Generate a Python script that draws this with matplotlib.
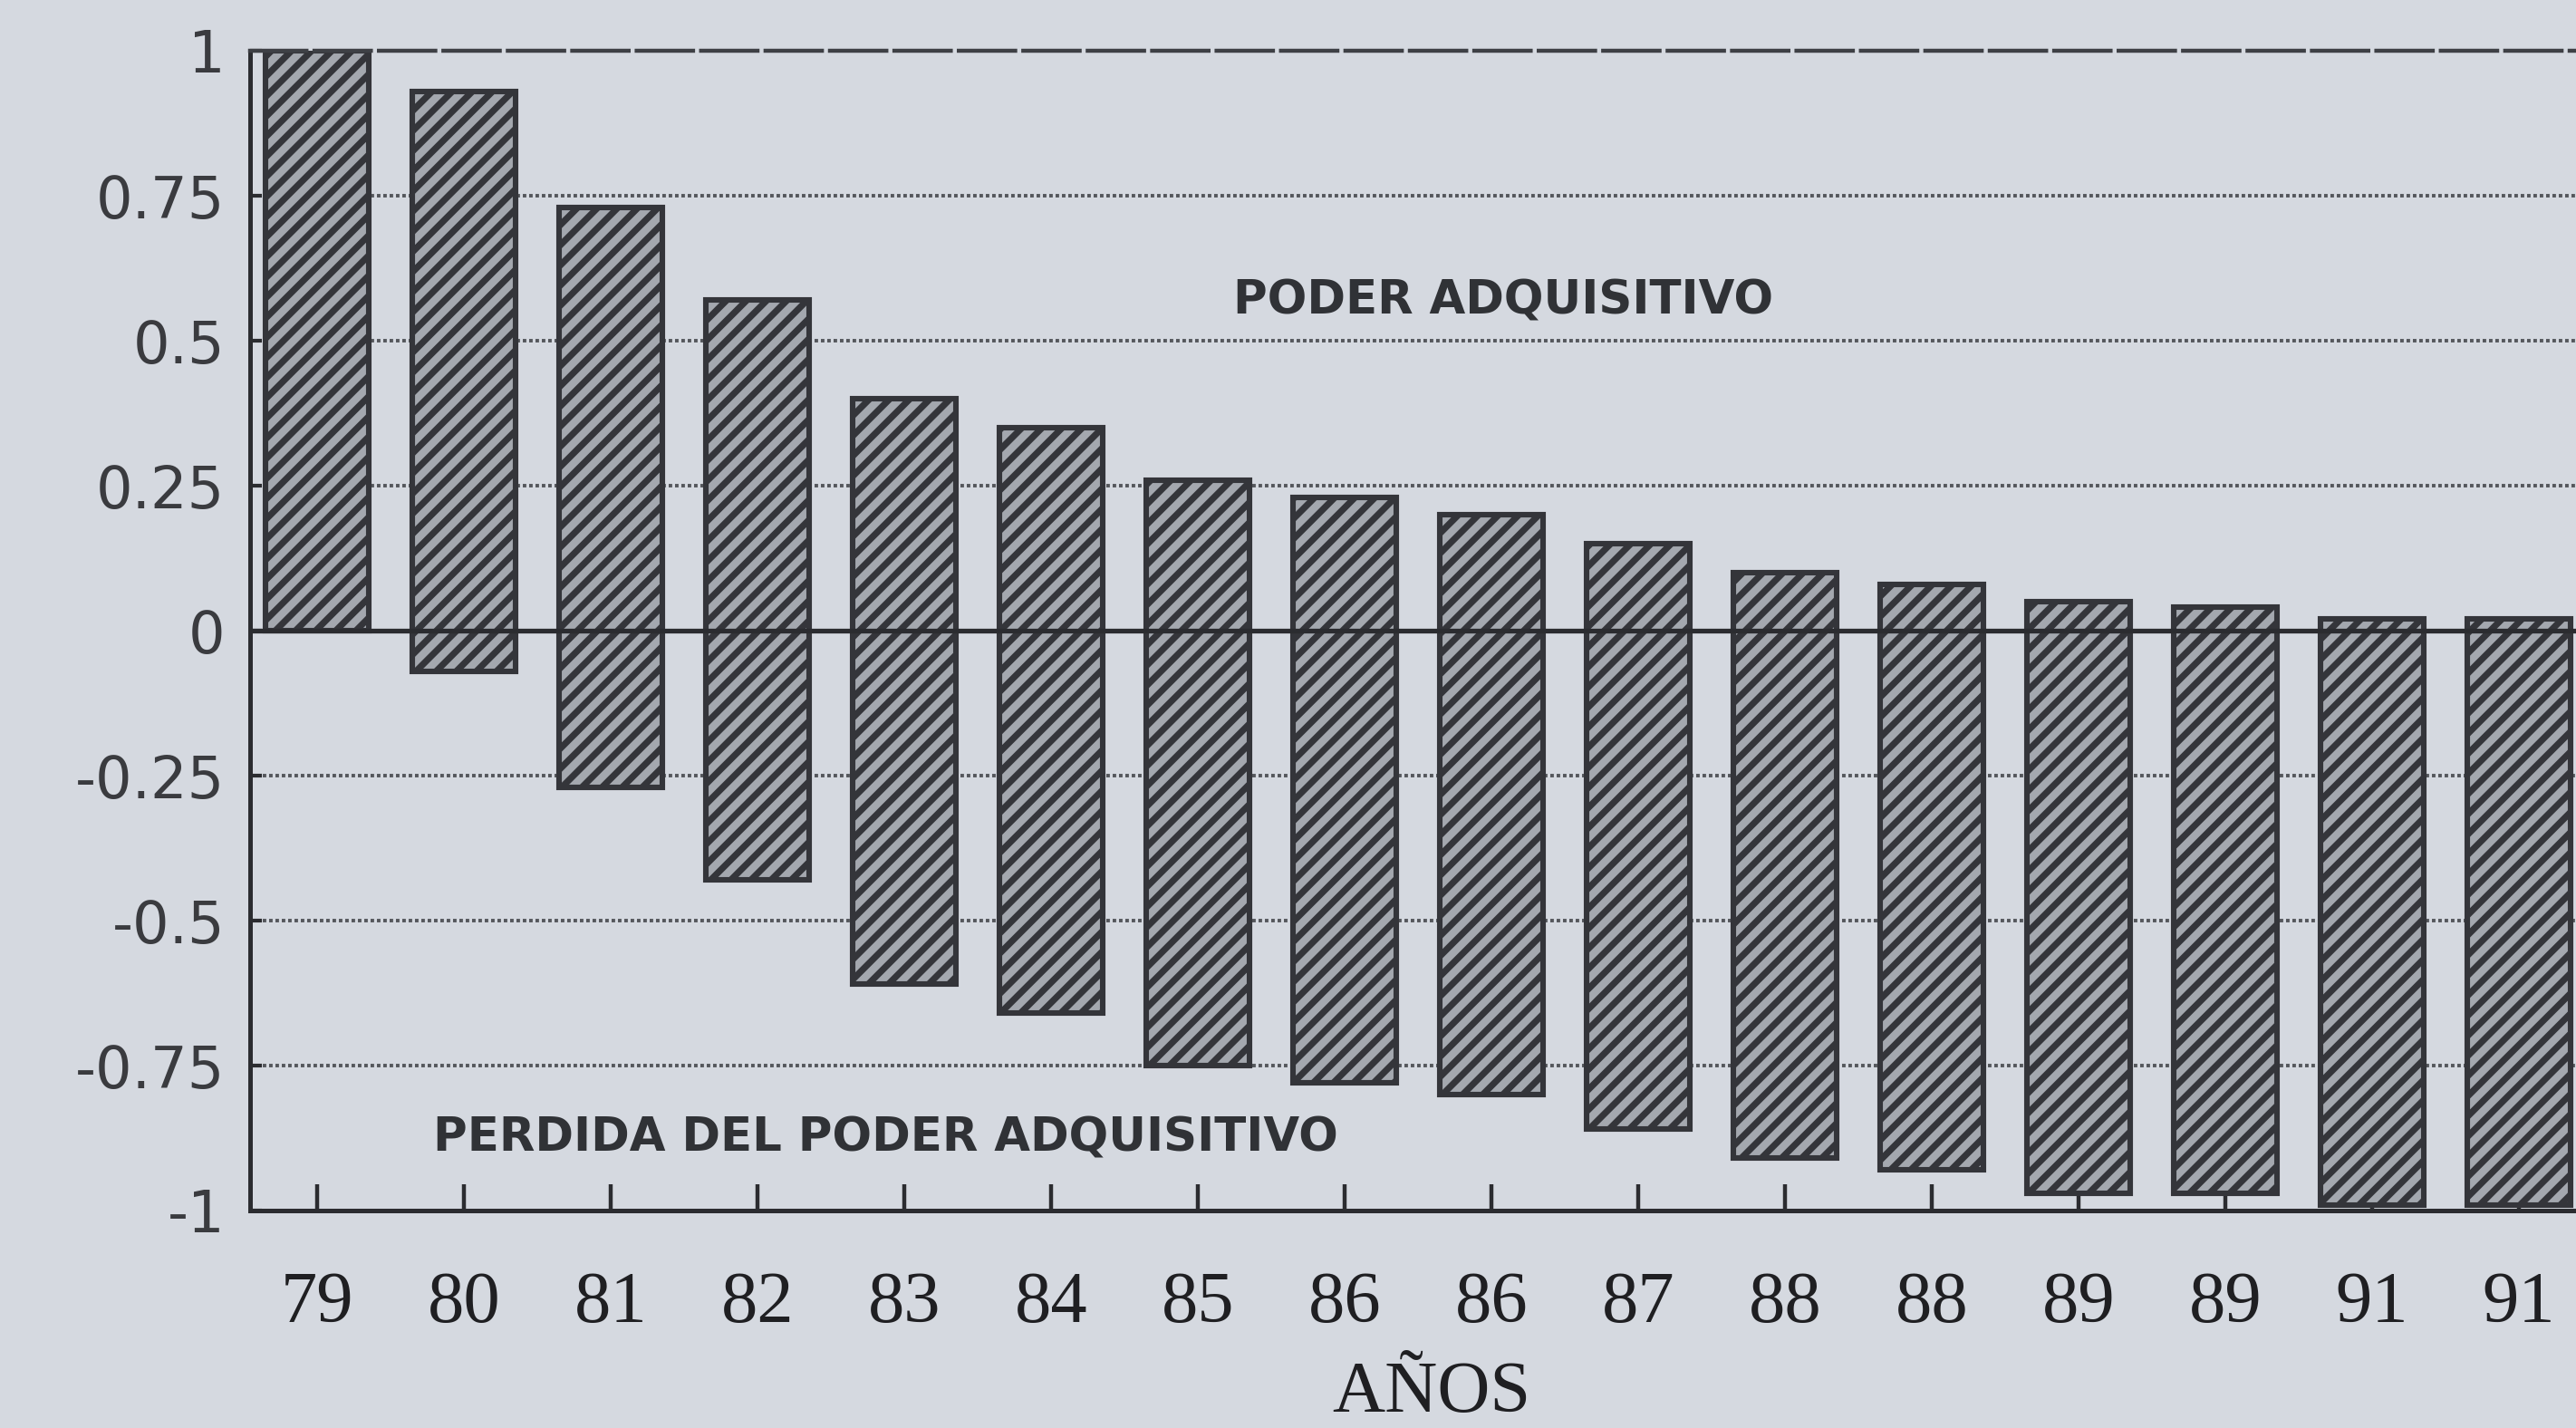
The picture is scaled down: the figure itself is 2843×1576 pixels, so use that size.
import matplotlib
matplotlib.use("Agg")
import matplotlib.pyplot as plt
import numpy as np

# ---- data ----
years = ["79", "80", "81", "82", "83", "84", "85", "86",
         "86", "87", "88", "88", "89", "89", "91", "91"]
tops = [1.00, 0.93, 0.73, 0.57, 0.40, 0.35, 0.26, 0.23,
        0.20, 0.15, 0.10, 0.08, 0.05, 0.04, 0.02, 0.02]
bottoms = [0.00, -0.07, -0.27, -0.43, -0.61, -0.66, -0.75, -0.78,
           -0.80, -0.86, -0.91, -0.93, -0.97, -0.97, -0.99, -0.99]
ytick_vals = [-1, -0.75, -0.5, -0.25, 0, 0.25, 0.5, 0.75, 1]
ytick_labels = ["-1", "-0.75", "-0.5", "-0.25", "0", "0.25", "0.5", "0.75", "1"]
label_up = "PODER ADQUISITIVO"
label_down = "PERDIDA DEL PODER ADQUISITIVO"
xlabel = "AÑOS"

# ---- styling ----
BG = "#d5d9e0"
INK = "#2b2c30"
DPI = 200
W, H = 2843, 1576

plt.rcParams["hatch.linewidth"] = 2.6
fig = plt.figure(figsize=(W / DPI, H / DPI), dpi=DPI, facecolor=BG)

left_px, right_px, top_px, bot_px = 276, 2843, 56, 1336
ax = fig.add_axes([left_px / W, 1 - bot_px / H,
                   (right_px - left_px) / W, (bot_px - top_px) / H])
ax.set_facecolor(BG)

x = np.arange(len(years))
heights = np.array(tops) - np.array(bottoms)
ax.bar(x, heights, bottom=bottoms, width=0.705, facecolor="#a4a8af",
       edgecolor="#34353a", linewidth=2.2, hatch="///", zorder=2)

# grid lines (dotted) at intermediate ticks
for v in ytick_vals:
    if v not in (0, 1, -1):
        ax.axhline(v, color="#55575c", linestyle=(0, (1.0, 0.8)),
                   linewidth=1.4, zorder=1)
ax.axhline(0, color=INK, linewidth=1.9, zorder=3)

ax.set_xlim(-0.459, 15.39)
ax.set_ylim(-1, 1)

ax.set_yticks(ytick_vals)
ax.set_yticklabels(ytick_labels, fontsize=23, family="DejaVu Sans", color=INK)
ax.set_xticks(x)
ax.set_xticklabels(years, fontsize=29, family="Liberation Serif", color="#1f1f22")
ax.tick_params(axis="y", direction="in", length=4.5, width=1.5, pad=10, colors=INK)
ax.tick_params(axis="x", direction="in", length=10.5, width=1.6, pad=24, colors=INK)
for lbl in ax.get_yticklabels():
    lbl.set_color("#3a3b3f")
for lbl in ax.get_xticklabels():
    lbl.set_color("#1f1f22")

for s in ("left", "bottom"):
    ax.spines[s].set_color(INK)
    ax.spines[s].set_linewidth(1.8)
ax.spines["right"].set_visible(False)
ax.spines["top"].set_color("#3e4045")
ax.spines["top"].set_linewidth(1.6)
ax.spines["top"].set_linestyle((0, (14, 2)))

ax.text(8.08, 0.568, label_up, fontsize=18.5, fontweight="bold",
        family="DejaVu Sans", color="#303236", ha="center", va="center", zorder=4)
ax.text(3.87, -0.875, label_down, fontsize=18.5, fontweight="bold",
        family="DejaVu Sans", color="#303236", ha="center", va="center", zorder=4)

ax.set_xlabel(xlabel, fontsize=29, family="Liberation Serif", color="#1f1f22")
ax.xaxis.label.set_va("bottom")
ax.xaxis.set_label_coords(0.508, -0.1865)

fig.savefig("out.png", dpi=DPI, facecolor=BG)
